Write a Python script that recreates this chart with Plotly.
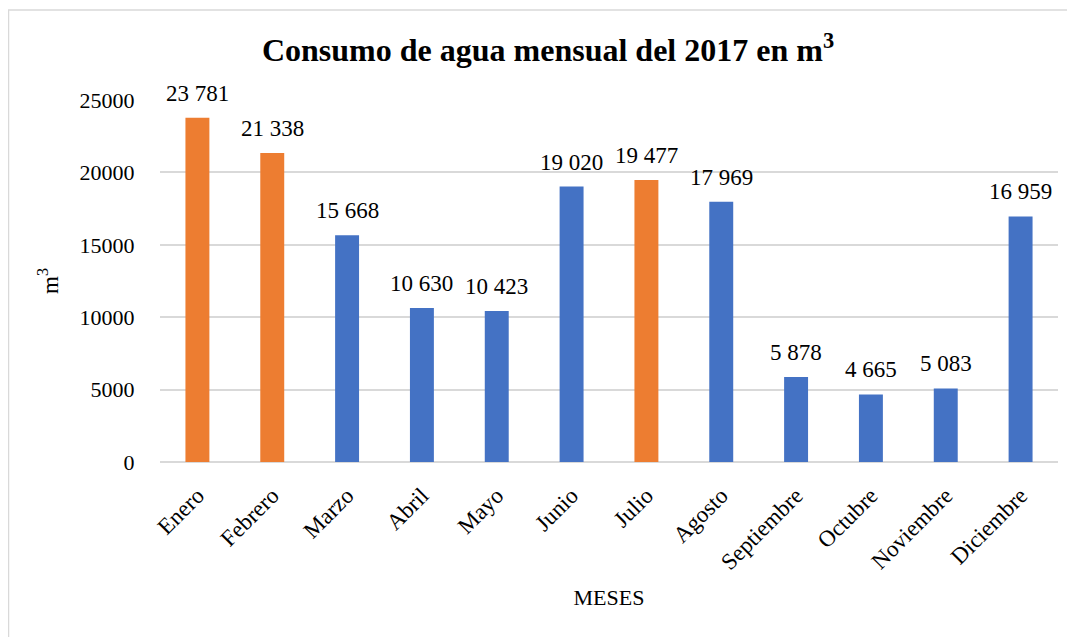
import plotly.graph_objects as go

meses = ["Enero", "Febrero", "Marzo", "Abril", "Mayo", "Junio", "Julio",
         "Agosto", "Septiembre", "Octubre", "Noviembre", "Diciembre"]
consumo = [23781, 21338, 15668, 10630, 10423, 19020, 19477, 17969, 5878, 4665, 5083, 16959]
destacados = ["Enero", "Febrero", "Julio"]
y_ticks = [0, 5000, 10000, 15000, 20000, 25000]

NARANJA = "#ED7D31"
AZUL = "#4472C4"
colores = [NARANJA if m in destacados else AZUL for m in meses]

SERIF = "Liberation Serif, Times New Roman, serif"

etiquetas = [f"{v:,}".replace(",", " ") for v in consumo]

fig = go.Figure(go.Bar(
    x=meses, y=consumo,
    marker=dict(color=colores, line=dict(width=0)),
    cliponaxis=False,
    hoverinfo="x+y",
))

# value labels placed at each bar top through the axis scales
for mes, val, txt in zip(meses, consumo, etiquetas):
    fig.add_annotation(x=mes, y=val, xref="x", yref="y", text=txt,
                       showarrow=False, yanchor="bottom", yshift=10,
                       font=dict(family=SERIF, size=23, color="black"))

# page body has an 8px margin; compensate so page coordinates match
OFF = 8
W, H = 1075 - OFF, 637 - OFF
L, R, T, B = 160 - OFF, 17, 100 - OFF, 175
pw = W - L - R
ph = H - T - B

def px_x(x):
    return (x - OFF - L) / pw

def px_y(y):
    return (H - B - (y - OFF)) / ph

fig.update_layout(
    width=W, height=H,
    margin=dict(l=L, r=R, t=T, b=B, autoexpand=False),
    paper_bgcolor="white", plot_bgcolor="white",
    bargap=0.68,
    showlegend=False,
    font=dict(family=SERIF, color="black"),
    title=dict(text="<b>Consumo de agua mensual del 2017 en m<sup>3</sup></b>",
               font=dict(family=SERIF, size=32, color="black"),
               x=px_x(548), xref="paper", xanchor="center",
               y=1 - (50 - OFF) / H, yref="container", yanchor="middle"),
    xaxis=dict(tickangle=-45, tickfont=dict(family=SERIF, size=23, color="black"),
               showgrid=False, showline=False,
               ticks="outside", ticklen=10, tickcolor="rgba(0,0,0,0)",
               title=dict(text="MESES", font=dict(family=SERIF, size=22, color="black"),
                          standoff=15)),
    yaxis=dict(range=[0, 25000], tickvals=y_ticks, tickformat="d",
               tickfont=dict(family=SERIF, size=22, color="black"),
               showgrid=True, gridcolor="#D9D9D9", gridwidth=1.5,
               zeroline=True, zerolinecolor="#D9D9D9", zerolinewidth=1.5,
               showline=False,
               ticks="outside", ticklen=20, tickcolor="rgba(0,0,0,0)",
               title=dict(text="m<sup>3</sup>", font=dict(family=SERIF, size=23, color="black"),
                          standoff=14)),
    shapes=[
        dict(type="line", xref="paper", yref="paper",
             x0=px_x(8), x1=px_x(1075), y0=px_y(10), y1=px_y(10),
             line=dict(color="#D9D9D9", width=1.5)),
        dict(type="line", xref="paper", yref="paper",
             x0=px_x(8.5), x1=px_x(8.5), y0=px_y(10), y1=px_y(640),
             line=dict(color="#D9D9D9", width=1.5)),
    ],
)

fig.write_html("out.html")
